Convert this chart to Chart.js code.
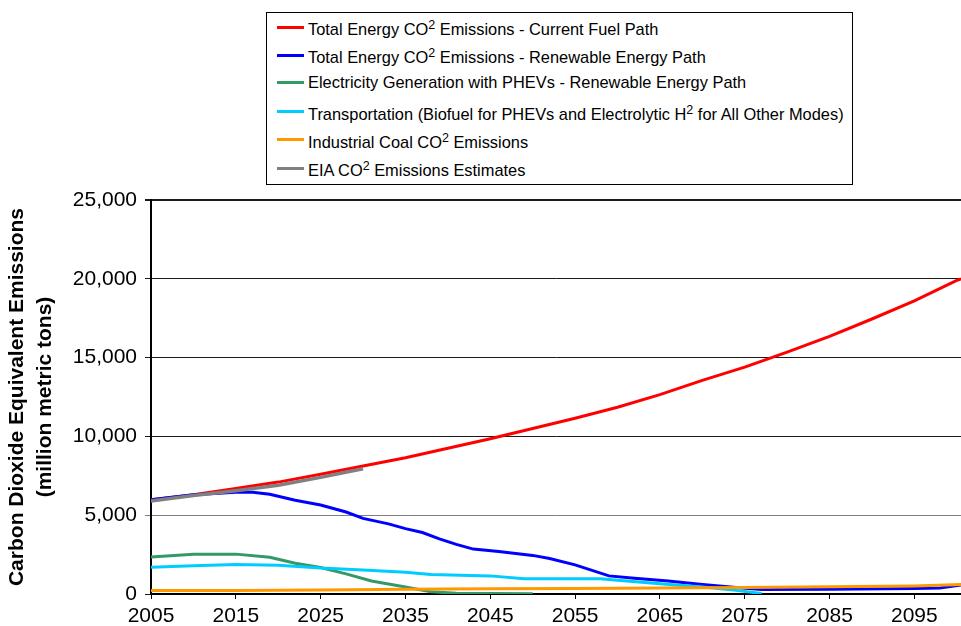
<!DOCTYPE html>
<html>
<head>
<meta charset="utf-8">
<script src="https://cdn.jsdelivr.net/npm/chart.js@4.4.1/dist/chart.umd.min.js"></script>
<style>
  html, body { margin: 0; padding: 0; background: #fff; }
  #wrap { position: relative; width: 961px; height: 626px; overflow: hidden; }
  #legend { position: absolute; left: 266px; top: 12px; width: 585px; height: 171px;
            border: 1px solid #000; background: #fff; font-family: "Liberation Sans", Arial, sans-serif;
            font-size: 16.4px; color: #000; }
  .tx { position: absolute; left: 41px; height: 20px; line-height: 20px; white-space: nowrap; }
  .sw { position: absolute; left: 10px; width: 27px; height: 3px; }
  sup { font-size: 12.5px; line-height: 0; vertical-align: 6px; }
</style>
</head>
<body>
<div id="wrap">
  <canvas id="c" width="961" height="626"></canvas>
  <div id="legend"></div>
</div>
<script>
// ---- Data ----
const seriesNames = [
  'Total Energy CO<sup>2</sup> Emissions - Current Fuel Path',
  'Total Energy CO<sup>2</sup> Emissions - Renewable Energy Path',
  'Electricity Generation with PHEVs - Renewable Energy Path',
  'Transportation (Biofuel for PHEVs and Electrolytic H<sup>2</sup> for All Other Modes)',
  'Industrial Coal CO<sup>2</sup> Emissions',
  'EIA CO<sup>2</sup> Emissions Estimates'
];
const seriesColors = ['#FF0000', '#0000FF', '#339966', '#00CCFF', '#FF9900', '#808080'];

const currentYears  = [2005,2010,2015,2020,2025,2030,2035,2040,2045,2050,2055,2060,2065,2070,2075,2080,2085,2090,2095,2100,2100.5];
const currentValues = [5980,6300,6700,7100,7600,8120,8650,9250,9850,10500,11150,11850,12650,13550,14400,15350,16350,17450,18600,19900,20000];

const renewYears  = [2005,2010,2015,2017,2019,2022,2025,2028,2030,2033,2035,2037,2039,2041,2043,2046,2050,2052,2055,2059,2062,2066,2070,2074,2077,2085,2095,2098,2100.5];
const renewValues = [5980,6300,6450,6450,6330,5950,5650,5200,4800,4450,4150,3900,3500,3150,2850,2700,2450,2250,1850,1150,1000,820,600,420,290,300,350,380,580];

const elecYears  = [2005,2010,2015,2019,2022,2025,2028,2031,2035,2038,2041,2050];
const elecValues = [2340,2520,2530,2330,1950,1680,1280,830,450,150,40,20];

const transYears  = [2005,2010,2015,2020,2025,2030,2035,2038,2045,2049,2058,2060,2065,2070,2074,2077];
const transValues = [1700,1790,1870,1830,1650,1530,1380,1230,1150,970,960,870,650,440,230,30];

const coalYears  = [2005,2015,2025,2035,2045,2055,2065,2075,2085,2095,2100.5];
const coalValues = [220,230,260,300,330,350,380,420,460,510,600];

const eiaYears  = [2005,2010,2015,2020,2025,2030];
const eiaValues = [5900,6250,6550,6900,7400,7950];

const xTickYears = [2005,2015,2025,2035,2045,2055,2065,2075,2085,2095];
const yTickValues = [0,5000,10000,15000,20000,25000];

// ---- Build datasets ----
function pts(xs, ys) { return xs.map((x, i) => ({ x: x, y: ys[i] })); }
const allYears = [currentYears, renewYears, elecYears, transYears, coalYears, eiaYears];
const allValues = [currentValues, renewValues, elecValues, transValues, coalValues, eiaValues];
const drawOrder = [6, 5, 4, 3, 2, 1];
const widths = [3, 3, 3, 3, 3, 3.5];

const datasets = seriesNames.map((n, i) => ({
  label: n.replace(/<sup>2<\/sup>/g, '2'),
  data: pts(allYears[i], allValues[i]),
  borderColor: seriesColors[i],
  backgroundColor: seriesColors[i],
  borderWidth: widths[i],
  pointRadius: 0,
  tension: 0,
  fill: false,
  order: drawOrder[i]
}));

// ---- HTML legend (real text with superscripts) ----
const legendTop = 13;                       // content top of legend box (page px)
const rowBaselines = [35, 62.5, 87.5, 120, 147.5, 175.5];
const swatchCenters = [27, 55, 82, 111, 139, 168];
const legend = document.getElementById('legend');
seriesNames.forEach((n, i) => {
  const sw = document.createElement('div');
  sw.className = 'sw';
  sw.style.background = seriesColors[i];
  sw.style.top = (swatchCenters[i] - legendTop - 1.5) + 'px';
  legend.appendChild(sw);
  const t = document.createElement('div');
  t.className = 'tx';
  t.style.top = (rowBaselines[i] - legendTop - 15.7) + 'px';
  t.innerHTML = n;
  legend.appendChild(t);
});

const FONT = '"Liberation Sans", Arial, sans-serif';

new Chart(document.getElementById('c'), {
  type: 'line',
  data: { datasets: datasets },
  options: {
    responsive: false,
    animation: false,
    devicePixelRatio: 1,
    layout: { padding: { top: 200, right: 0, left: 0, bottom: 0 } },
    plugins: { legend: { display: false }, tooltip: { enabled: false } },
    scales: {
      x: {
        type: 'linear',
        min: 2005,
        max: 2100.5,
        afterBuildTicks: (axis) => { axis.ticks = xTickYears.map(v => ({ value: v })); },
        afterFit: (s) => { s.height = 32; },
        grid: { drawOnChartArea: false, drawTicks: true, tickLength: 5, color: '#000', lineWidth: 1 },
        border: { display: true, color: '#000', width: 2 },
        ticks: { color: '#000', font: { family: FONT, size: 21, lineHeight: 1.2 }, padding: 5, maxRotation: 0, autoSkip: false,
                 callback: (v) => String(v) }
      },
      y: {
        min: 0,
        max: 25000,
        afterBuildTicks: (axis) => { axis.ticks = yTickValues.map(v => ({ value: v })); },
        afterFit: (s) => { s.width = 151; },
        grid: {
          drawTicks: true, tickLength: 6,
          color: (ctx) => (ctx.tick && ctx.tick.value === 5000) ? '#7f7f7f' : '#1a1a1a',
          lineWidth: (ctx) => (ctx.tick && ctx.tick.value === 25000) ? 2 : 1
        },
        border: { display: true, color: '#000', width: 2 },
        ticks: { color: '#000', font: { family: FONT, size: 21 }, padding: 8,
                 callback: (v) => v.toLocaleString('en-US') },
        title: {
          display: true,
          text: ['Carbon Dioxide Equivalent Emissions', '(million metric tons)'],
          color: '#000',
          font: { family: FONT, size: 21, weight: 'bold', lineHeight: 1.35 },
          padding: { top: 3, bottom: 0 }
        }
      }
    }
  }
});
</script>
</body>
</html>
